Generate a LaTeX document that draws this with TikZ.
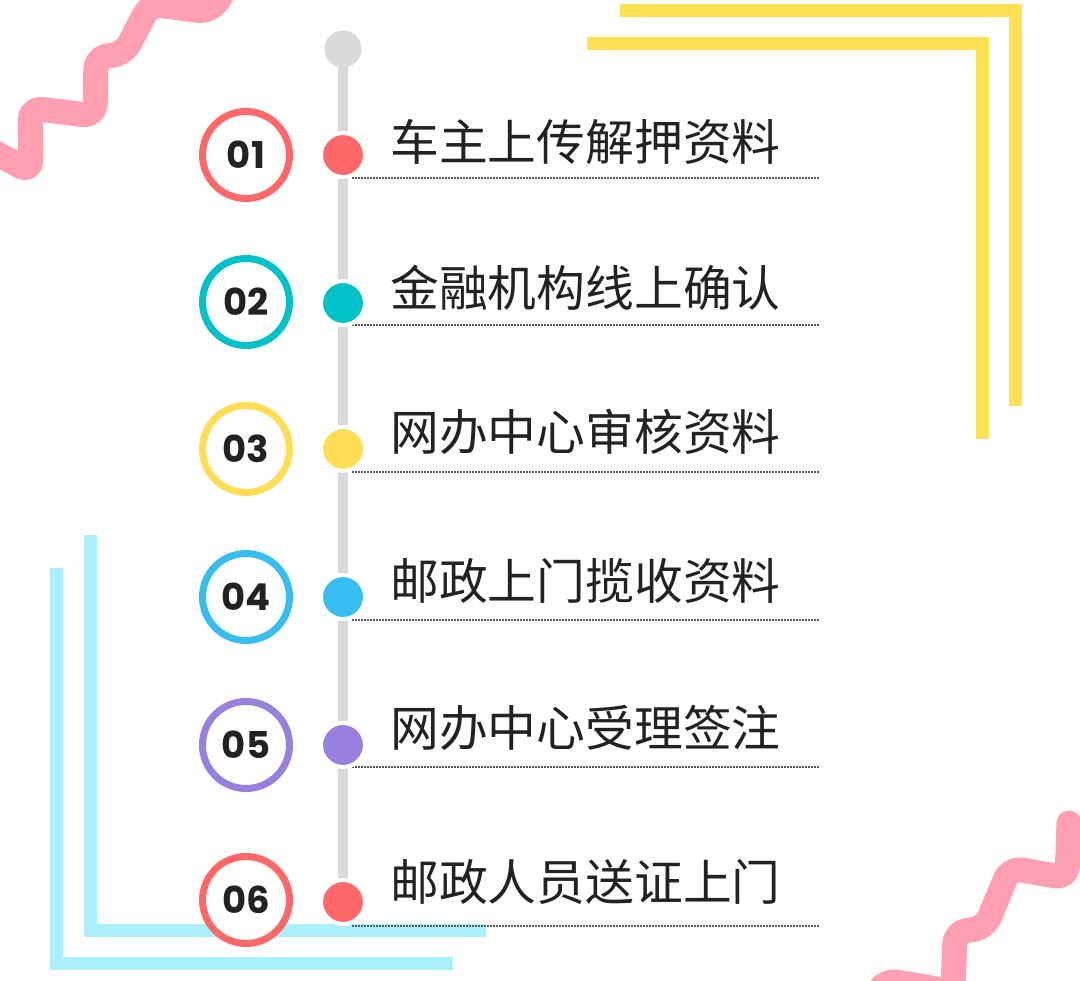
\documentclass[tikz,border=0pt]{standalone}
\usepackage{fontspec}
\newfontfamily\cjk{Noto Sans CJK SC}
\newfontfamily\numfont{Poppins}
\definecolor{wavepink}{RGB}{255,159,176}
\definecolor{barylw}{RGB}{255,225,85}
\definecolor{barcyan}{RGB}{170,240,252}
\definecolor{spinegray}{RGB}{217,217,217}
\definecolor{inkdark}{RGB}{34,34,34}
\definecolor{cred}{RGB}{255,104,104}
\definecolor{cteal}{RGB}{0,192,200}
\definecolor{cyellow}{RGB}{255,221,85}
\definecolor{cblue}{RGB}{56,189,240}
\definecolor{cpurple}{RGB}{152,128,222}
\tikzset{
	wave/.style={wavepink,line width=25pt,rounded corners=12pt,line cap=round,line join=round},
	ybar/.style={barylw,line width=13pt},
	cbar/.style={barcyan,line width=13pt},
	spine/.style={spinegray,line width=10pt},
	numring/.style={circle,draw=#1,fill=white,line width=7pt,minimum size=87pt,inner sep=0pt,
		text=inkdark,font=\numfont\bfseries\fontsize{37}{37}\selectfont},
	stepdot/.style={circle,fill=#1,draw=white,line width=4pt,minimum size=44pt,inner sep=0pt},
	steptext/.style={anchor=base west,inner sep=0pt,text=inkdark,font=\cjk\fontsize{48.8}{48.8}\selectfont},
	dotline/.style={inkdark!75,line width=1.5pt,dash pattern=on 1.5pt off 1.5pt}
}
\begin{document}
\begin{tikzpicture}[x=1pt,y=-1pt]
	\useasboundingbox (0,0) rectangle (1080,981);
	% waves in the corners
	\draw[wave] (-10,150) -- (31,172) -- (30,108) -- (95,116) -- (96,57) -- (124,54) -- (150,4) -- (210,12) -- (232,-20);
	\draw[wave] (870,1005) -- (885,980) -- (953,992) -- (955,932) -- (985,928) -- (1010,868) -- (1067,878) -- (1069,823);
	% frames
	\draw[ybar] (620,10.5) -- (1015.5,10.5) -- (1015.5,406);
	\draw[ybar] (587,43.5) -- (982.5,43.5) -- (982.5,439);
	\draw[cbar] (56.5,568) -- (56.5,963) -- (453,963);
	\draw[cbar] (90,535) -- (90,930) -- (486,930);
	% timeline
	\node[circle,fill=spinegray,minimum size=37pt,inner sep=0pt] (top) at (343,49) {};
	\coordinate (spineend) at (343,878);
	\draw[spine] (top.center) -- (spineend);

	\draw[dotline] (352,178) -- (820,178);
	\draw[dotline] (352,325) -- (820,325);
	\draw[dotline] (352,472) -- (820,472);
	\draw[dotline] (352,620) -- (820,620);
	\draw[dotline] (352,767) -- (820,767);
	\draw[dotline] (352,926) -- (820,926);

	\node[numring=cred] (n1) at (246,155) {01};
	\node[numring=cteal] (n2) at (246,302) {02};
	\node[numring=cyellow] (n3) at (246,449) {03};
	\node[numring=cblue] (n4) at (246,597) {04};
	\node[numring=cpurple] (n5) at (246,745) {05};
	\node[numring=cred] (n6) at (246,900) {06};

	\node[stepdot=cred] (d1) at (343,155) {};
	\node[stepdot=cteal] (d2) at (343,303) {};
	\node[stepdot=cyellow] (d3) at (343,449) {};
	\node[stepdot=cblue] (d4) at (343,597) {};
	\node[stepdot=cpurple] (d5) at (343,745) {};
	\node[stepdot=cred] (d6) at (343,902) {};

	\node[steptext] (t1) at (390,161) {车主上传解押资料};
	\node[steptext] (t2) at (390,307) {金融机构线上确认};
	\node[steptext] (t3) at (390,451) {网办中心审核资料};
	\node[steptext] (t4) at (390,599) {邮政上门揽收资料};
	\node[steptext] (t5) at (390,746) {网办中心受理签注};
	\node[steptext] (t6) at (390,900) {邮政人员送证上门};
\end{tikzpicture}
\end{document}
